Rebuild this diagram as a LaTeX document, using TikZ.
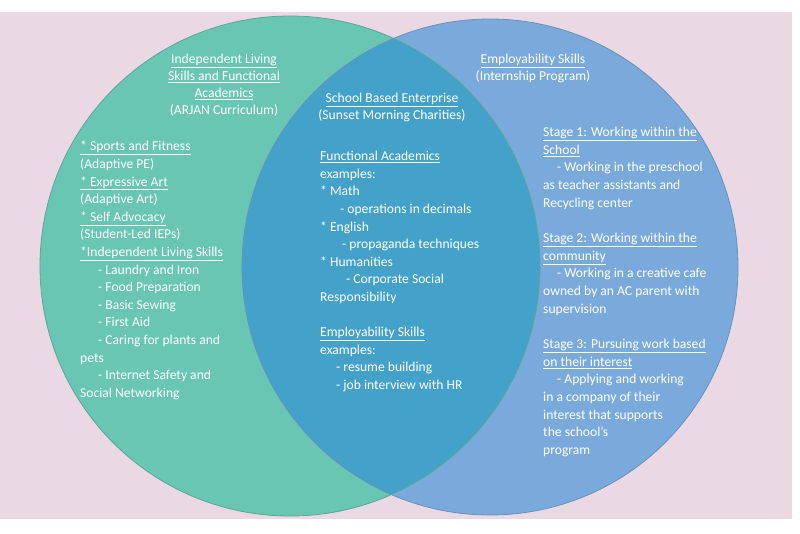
\documentclass[tikz,border=0pt]{standalone}
\usepackage{fontspec}
\setmainfont{Carlito}
\definecolor{bgpink}{RGB}{234,217,227}
\definecolor{leftc}{RGB}{104,198,178}
\definecolor{rightc}{RGB}{122,170,220}
\definecolor{midc}{RGB}{68,162,202}
\begin{document}
\begin{tikzpicture}[x=1pt,y=-1pt,
  txt/.style={text=white, font=\fontsize{13.6}{17.6}\selectfont, align=left, inner sep=0pt, anchor=north west},
  ttl/.style={text=white, font=\fontsize{13.6}{17}\selectfont, align=center, inner sep=0pt, anchor=north}]
\useasboundingbox (0,0) rectangle (800,533);
\fill[white] (0,0) rectangle (800,533);
\fill[bgpink] (0,12) rectangle (792,519);
\fill[leftc] (290,266) circle (250pt);
\fill[rightc] (490,267) circle (248pt);
\begin{scope}
  \clip (290,266) circle (250pt);
  \fill[midc] (490,267) circle (248pt);
\end{scope}
\draw[leftc!85!black, line width=0.8pt] (290,266) circle (250pt);
\draw[rightc!85!black, line width=0.8pt] (490,267) circle (248pt);

\node[ttl] (lt) at (224,54) {\underline{Independent Living}\\ \underline{Skills and Functional}\\ \underline{Academics}\\ (ARJAN Curriculum)};
\node[ttl] (ct) at (392,93) {\underline{School Based Enterprise}\\ (Sunset Morning Charities)};
\node[ttl] (rt) at (533,54) {\underline{Employability Skills}\\ (Internship Program)};

\node[txt] (ll) at (80,141) {\underline{* Sports and Fitness}\\
(Adaptive PE)\\
\underline{* Expressive Art}\\
(Adaptive Art)\\
\underline{* Self Advocacy}\\
(Student-Led IEPs)\\
\underline{*Independent Living Skills}\\
\hspace*{18pt}- Laundry and Iron\\
\hspace*{18pt}- Food Preparation\\
\hspace*{18pt}- Basic Sewing\\
\hspace*{18pt}- First Aid\\
\hspace*{18pt}- Caring for plants and\\
pets\\
\hspace*{18pt}- Internet Safety and\\
Social Networking};

\node[txt] (cl) at (320,151) {\underline{Functional Academics}\\
examples:\\
* Math\\
\hspace*{20pt}- operations in decimals\\
* English\\
\hspace*{22pt}- propaganda techniques\\
* Humanities\\
\hspace*{26pt}- Corporate Social\\
Responsibility\\[17.6pt]
\underline{Employability Skills}\\
examples:\\
\hspace*{16pt}- resume building\\
\hspace*{16pt}- job interview with HR};

\node[txt] (rl) at (543,127) {\underline{Stage 1: Working within the}\\
\underline{School}\\
\hspace*{14pt}- Working in the preschool\\
as teacher assistants and\\
Recycling center\\[18pt]
\underline{Stage 2: Working within the}\\
\underline{community}\\
\hspace*{14pt}- Working in a creative cafe\\
owned by an AC parent with\\
supervision\\[18pt]
\underline{Stage 3: Pursuing work based}\\
\underline{on their interest}\\
\hspace*{14pt}- Applying and working\\
in a company of their\\
interest that supports\\
the school's\\
program};
\end{tikzpicture}
\end{document}
